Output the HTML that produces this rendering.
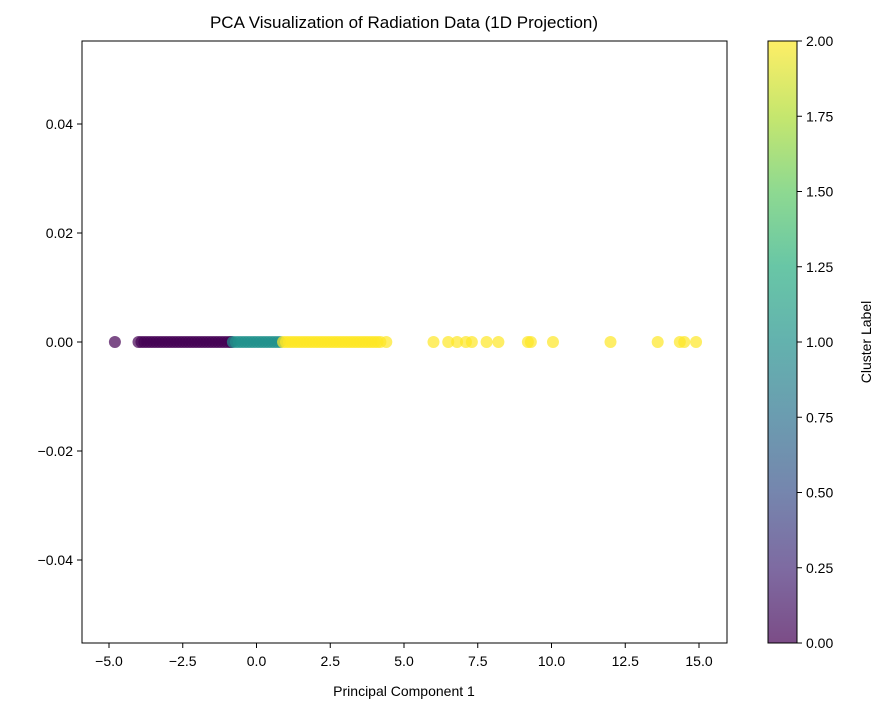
<!DOCTYPE html>
<html><head><meta charset="utf-8"><style>
body{margin:0;background:#fff;}
svg{font-family:"Liberation Sans","DejaVu Sans",sans-serif;}
</style></head><body>
<svg id="chart" width="889" height="712" viewBox="0 0 889 712">
<defs>
<linearGradient id="vir" x1="0" y1="1" x2="0" y2="0">
<stop offset="0" stop-color="#440154"/><stop offset="0.125" stop-color="#472c7a"/>
<stop offset="0.25" stop-color="#3b528b"/><stop offset="0.375" stop-color="#2c728e"/>
<stop offset="0.5" stop-color="#21918c"/><stop offset="0.625" stop-color="#28ae80"/>
<stop offset="0.75" stop-color="#5ec962"/><stop offset="0.875" stop-color="#addc30"/>
<stop offset="1" stop-color="#fde725"/>
</linearGradient>
</defs>
<text x="404" y="28" font-size="17" text-anchor="middle">PCA Visualization of Radiation Data (1D Projection)</text>
<g id="points"></g>
<rect x="82" y="41" width="645" height="602" fill="none" stroke="#000" stroke-width="1"/>
<g id="xaxis"></g>
<g id="yaxis"></g>
<text x="404" y="696" font-size="14" text-anchor="middle">Principal Component 1</text>
<rect x="768" y="41" width="29" height="602" fill="url(#vir)" fill-opacity="0.7"/>
<rect x="768" y="41" width="29" height="602" fill="none" stroke="#000" stroke-width="1"/>
<g id="cbaxis"></g>
<text transform="translate(871,342) rotate(-90)" font-size="14" text-anchor="middle">Cluster Label</text>
</svg>
<script>
const cluster0 = [-4.8,-4.0,-3.9,-3.8,-3.7,-3.6,-3.5,-3.4,-3.3,-3.2,-3.1,-3.0,-2.9,-2.8,-2.7,-2.6,-2.5,-2.4,-2.3,-2.2,-2.1,-2.0,-1.9,-1.8,-1.7,-1.6,-1.5,-1.4,-1.3,-1.2,-1.1,-1.0,-0.9,-0.85];
const cluster1 = [-0.8,-0.7,-0.6,-0.5,-0.4,-0.3,-0.2,-0.1,0.0,0.1,0.2,0.3,0.4,0.5,0.6,0.7,0.8];
const cluster2 = [0.9,1.0,1.1,1.2,1.3,1.4,1.5,1.6,1.7,1.8,1.9,2.0,2.1,2.2,2.3,2.4,2.5,2.6,2.7,2.8,2.9,3.0,3.1,3.2,3.3,3.4,3.5,3.6,3.7,3.8,3.9,4.0,4.1,4.2,4.4,6.0,6.5,6.8,7.1,7.3,7.8,8.2,9.2,9.3,10.05,12.0,13.6,14.35,14.5,14.9];
const xTicks = [-5.0,-2.5,0.0,2.5,5.0,7.5,10.0,12.5,15.0];
const yTicks = [-0.04,-0.02,0.00,0.02,0.04];
const cbTicks = [0.00,0.25,0.50,0.75,1.00,1.25,1.50,1.75,2.00];
const colors = ['#440154','#21918c','#fde725'];
const NS='http://www.w3.org/2000/svg';
const xs = v => 109 + (v + 5) * 29.5;
const ys = v => 342 - v * 5450;
const cs = v => 643 - v / 2 * 602;
function mk(tag, attrs, parent){const e=document.createElementNS(NS,tag);for(const k in attrs)e.setAttribute(k,attrs[k]);parent.appendChild(e);return e;}
const pts=document.getElementById('points');
[cluster0,cluster1,cluster2].forEach((arr,ci)=>{arr.forEach(v=>{
 const c=mk('circle',{cx:xs(v),cy:ys(0),r:6,fill:colors[ci],'fill-opacity':0.7},pts);
 
 
});});
const xa=document.getElementById('xaxis');
xTicks.forEach(t=>{
 const l=mk('line',{x1:xs(t),x2:xs(t),y1:643,y2:648,stroke:'#000'},xa);
 
 
 const tx=mk('text',{x:xs(t),y:666,'font-size':14,'text-anchor':'middle'},xa);
 tx.textContent=t.toFixed(1).replace('-','\u2212');
 
 
});
const ya=document.getElementById('yaxis');
yTicks.forEach(t=>{
 const l=mk('line',{x1:77,x2:82,y1:ys(t),y2:ys(t),stroke:'#000'},ya);
 
 
 const tx=mk('text',{x:73,y:ys(t)+5,'font-size':14,'text-anchor':'end'},ya);
 tx.textContent=t.toFixed(2).replace('-','\u2212');
 
 
});
const ca=document.getElementById('cbaxis');
cbTicks.forEach(t=>{
 const l=mk('line',{x1:797,x2:802,y1:cs(t),y2:cs(t),stroke:'#000'},ca);
 
 
 const tx=mk('text',{x:806,y:cs(t)+5,'font-size':14},ca);
 tx.textContent=t.toFixed(2);
 
 
});
</script>
</body></html>
